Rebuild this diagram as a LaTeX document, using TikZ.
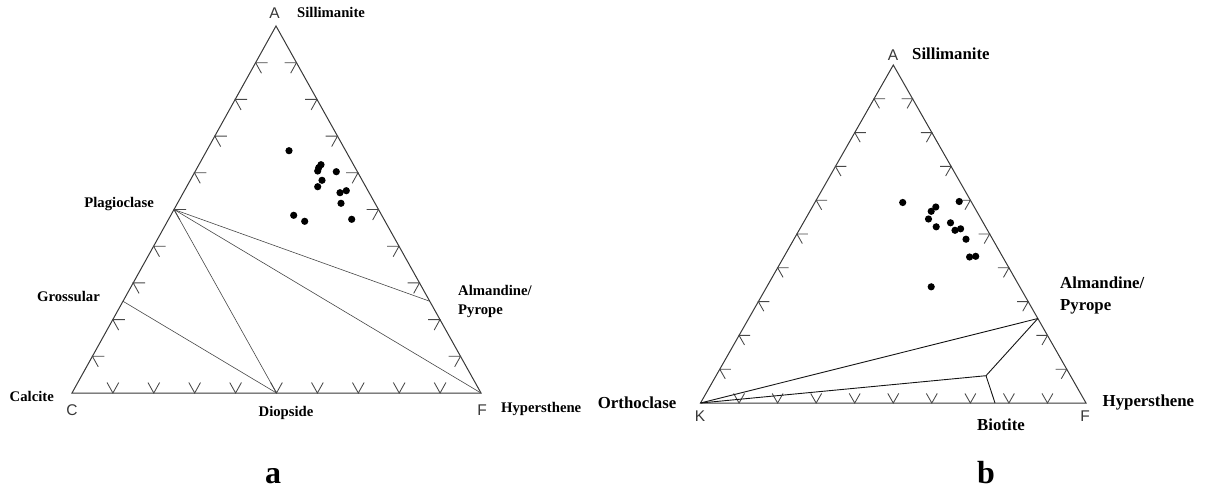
\documentclass[tikz,border=0pt]{standalone}
\usepackage{fontspec}
\setmainfont{Liberation Serif}
\setsansfont{Liberation Sans}
\usetikzlibrary{calc}
\begin{document}
\begin{tikzpicture}[x=1pt,y=-1pt,
  side/.style={draw=black!78, line width=1pt},
  tickmark/.style={draw=black!72, line width=0.85pt},
  tie/.style={draw=black!72, line width=0.6pt},
  tieb/.style={draw=black!92, line width=0.9pt},
  lbla/.style={inner sep=0pt, font=\fontsize{14.7}{16}\selectfont\bfseries},
  lblb/.style={inner sep=0pt, font=\fontsize{16.8}{18}\selectfont\bfseries},
  vtx/.style={inner sep=0pt, text=black!78, font=\fontsize{15.5}{17}\selectfont\sffamily},
  panel/.style={inner sep=0pt, font=\fontsize{32}{34}\selectfont\bfseries},
  dot/.style={fill=black}
]
\useasboundingbox (0,0) rectangle (1206,490);

% ---------------- panel a ----------------
\coordinate (Aa) at (276,26);
\coordinate (Ca) at (72,393);
\coordinate (Fa) at (481,393);
\coordinate (uAFa) at ($(Aa)!12pt!(Fa)$);
\coordinate (uACa) at ($(Aa)!12pt!(Ca)$);
\coordinate (uFAa) at ($(Fa)!12pt!(Aa)$);
\coordinate (uCAa) at ($(Ca)!12pt!(Aa)$);
\draw[side] (Aa) -- (Ca) -- (Fa) -- cycle;
\foreach \i [evaluate=\i as \f using \i/10] in {1,...,9}{
  \coordinate (p) at ($(Ca)!\f!(Aa)$);
  \draw[tickmark] ($(p)+(12,0)$) -- (p) -- ($(p)+(uAFa)-(Aa)$);
  \coordinate (q) at ($(Fa)!\f!(Aa)$);
  \draw[tickmark] ($(q)+(-12,0)$) -- (q) -- ($(q)+(uACa)-(Aa)$);
  \coordinate (r) at ($(Ca)!\f!(Fa)$);
  \draw[tickmark] ($(r)+(uFAa)-(Fa)$) -- (r) -- ($(r)+(uCAa)-(Ca)$);
}
\coordinate (Plag) at ($(Ca)!0.5!(Aa)$);
\coordinate (Gros) at ($(Ca)!0.25!(Aa)$);
\coordinate (Diop) at ($(Ca)!0.5!(Fa)$);
\coordinate (Alma) at ($(Fa)!0.25!(Aa)$);
\draw[tie] (Plag) -- (Alma);
\draw[tie] (Plag) -- (Fa);
\draw[tie] (Plag) -- (Diop);
\draw[tie] (Gros) -- (Diop);
\foreach \x/\y in {289/150.7, 321/164.7, 318.7/167.7, 317.7/171, 336.3/171.7,
  322/180.3, 317.7/186.7, 340/192.7, 346.3/190.7, 341/203.3, 293.7/215.3,
  304.7/221.3, 351.7/219.3}
  \fill[dot] (\x,\y) circle (3.6pt);

\node[vtx, anchor=base] (lAa) at (274.5,18.5) {A};
\node[lbla, anchor=base west] (lSila) at (297,17.5) {Sillimanite};
\node[lbla, anchor=base east] (lPlag) at (154,207) {Plagioclase};
\node[lbla, anchor=base east] (lGros) at (100,301) {Grossular};
\node[lbla, anchor=base east] (lCalc) at (54,401) {Calcite};
\node[vtx, anchor=base] (lCa) at (72,415) {C};
\node[lbla, anchor=base] (lDiop) at (286,416) {Diopside};
\node[vtx, anchor=base] (lFa) at (482,415) {F};
\node[lbla, anchor=base west] (lHypa) at (501,412) {Hypersthene};
\node[lbla, anchor=base west] (lAlma) at (458,295) {Almandine/};
\node[lbla, anchor=base west] (lPyra) at (458,314) {Pyrope};
\node[panel, anchor=base] (pa) at (273,483) {a};

% ---------------- panel b ----------------
\coordinate (Ab) at (893.3,65);
\coordinate (Kb) at (700.5,403);
\coordinate (Fb) at (1086,403);
\coordinate (uAFb) at ($(Ab)!11pt!(Fb)$);
\coordinate (uAKb) at ($(Ab)!11pt!(Kb)$);
\coordinate (uFAb) at ($(Fb)!11pt!(Ab)$);
\coordinate (uKAb) at ($(Kb)!11pt!(Ab)$);
\draw[side] (Ab) -- (Kb) -- (Fb) -- cycle;
\foreach \i [evaluate=\i as \f using \i/10] in {1,...,9}{
  \coordinate (p) at ($(Kb)!\f!(Ab)$);
  \draw[tickmark] ($(p)+(11,0)$) -- (p) -- ($(p)+(uAFb)-(Ab)$);
  \coordinate (q) at ($(Fb)!\f!(Ab)$);
  \draw[tickmark] ($(q)+(-11,0)$) -- (q) -- ($(q)+(uAKb)-(Ab)$);
  \coordinate (r) at ($(Kb)!\f!(Fb)$);
  \draw[tickmark] ($(r)+(uFAb)-(Fb)$) -- (r) -- ($(r)+(uKAb)-(Kb)$);
}
\coordinate (Almb) at ($(Fb)!0.25!(Ab)$);
\coordinate (Bin) at (986,375.7);
\coordinate (Bbase) at (995,403);
\draw[tieb] (Kb) -- (Almb);
\draw[tieb] (Kb) -- (Bin);
\draw[tieb] (Bin) -- (Almb);
\draw[tieb] (Bin) -- (Bbase);
\foreach \x/\y in {902.7/202.5, 935.8/207, 931.2/211.3, 959.2/201.5, 928.5/219,
  936.2/226.8, 950.5/222.8, 955/230.3, 960.6/228.8, 966/239.2, 969.6/257,
  975.7/256.3, 931.2/286.8}
  \fill[dot] (\x,\y) circle (3.6pt);

\node[vtx, anchor=base] (lAb) at (893,60) {A};
\node[lblb, anchor=base west] (lSilb) at (912,59.5) {Sillimanite};
\node[lblb, anchor=base west] (lAlmb) at (1060,288) {Almandine/};
\node[lblb, anchor=base west] (lPyrb) at (1060,310.5) {Pyrope};
\node[lblb, anchor=base east] (lOrth) at (676.5,408) {Orthoclase};
\node[vtx, anchor=base] (lKb) at (700,421.5) {K};
\node[lblb, anchor=base west] (lBiot) at (977,430) {Biotite};
\node[vtx, anchor=base] (lFb) at (1085,421) {F};
\node[lblb, anchor=base west] (lHypb) at (1102.5,406.5) {Hypersthene};
\node[panel, anchor=base] (pb) at (986,483) {b};
\end{tikzpicture}
\end{document}
